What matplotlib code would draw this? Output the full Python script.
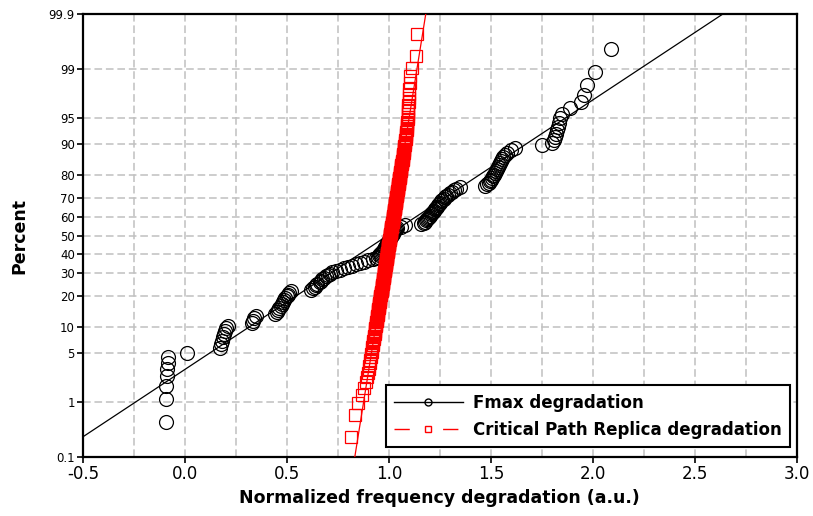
import math
import numpy as np
import matplotlib
matplotlib.use("Agg")
import matplotlib.pyplot as plt
from matplotlib.lines import Line2D

# Fmax degradation samples (sorted)
fmax = [
    -0.095, -0.093, -0.091, -0.089, -0.087, -0.085, -0.082, 0.008,
    0.170, 0.175, 0.180, 0.185, 0.190, 0.195, 0.200, 0.210,
    0.330, 0.335, 0.340, 0.350,
    0.440, 0.450, 0.455, 0.460, 0.470, 0.475, 0.480, 0.485, 0.490, 0.500,
    0.505, 0.510, 0.520,
    0.620, 0.630, 0.640, 0.645, 0.650, 0.660, 0.665, 0.670, 0.680, 0.690,
    0.700, 0.710, 0.720, 0.740, 0.760, 0.780, 0.800, 0.820, 0.840, 0.860,
    0.880, 0.900, 0.920, 0.935,
    0.945, 0.950, 0.955, 0.960, 0.965, 0.970, 0.975, 0.980, 0.980, 0.985,
    0.990, 0.990, 0.995, 1.000, 1.000, 1.005, 1.010, 1.010, 1.015, 1.020,
    1.020, 1.025, 1.030, 1.035, 1.040, 1.060, 1.080,
    1.160, 1.170, 1.175, 1.180, 1.185, 1.190, 1.195, 1.200, 1.205, 1.210,
    1.215, 1.220, 1.225, 1.230, 1.235, 1.240, 1.245, 1.250, 1.255, 1.260,
    1.270, 1.275, 1.280, 1.290, 1.300, 1.310, 1.320, 1.330, 1.350,
    1.470, 1.480, 1.490, 1.495, 1.500, 1.505, 1.510, 1.515, 1.520, 1.525,
    1.530, 1.535, 1.540, 1.545, 1.550, 1.555, 1.560, 1.570, 1.580, 1.600,
    1.620,
    1.750, 1.800, 1.810, 1.815, 1.820, 1.825, 1.830, 1.835, 1.840, 1.850,
    1.890, 1.940, 1.955, 1.970, 2.010, 2.090,
]

# critical path replica samples (sorted)
cpr = [
    0.812, 0.833, 0.850, 0.866, 0.880, 0.886, 0.893, 0.897, 0.901, 0.905,
    0.907, 0.910, 0.912, 0.914, 0.916, 0.917, 0.919, 0.921, 0.922, 0.924,
    0.925, 0.927, 0.928, 0.930, 0.931, 0.932, 0.933, 0.934, 0.935, 0.937,
    0.938, 0.939, 0.940, 0.941, 0.942, 0.943, 0.944, 0.945, 0.946, 0.947,
    0.947, 0.948, 0.949, 0.950, 0.951, 0.952, 0.953, 0.953, 0.954, 0.955,
    0.956, 0.956, 0.957, 0.958, 0.959, 0.959, 0.960, 0.961, 0.961, 0.962,
    0.963, 0.964, 0.964, 0.965, 0.966, 0.966, 0.967, 0.968, 0.968, 0.969,
    0.969, 0.970, 0.971, 0.971, 0.972, 0.973, 0.973, 0.974, 0.974, 0.975,
    0.976, 0.976, 0.977, 0.977, 0.978, 0.978, 0.979, 0.980, 0.980, 0.981,
    0.981, 0.982, 0.982, 0.983, 0.983, 0.984, 0.985, 0.985, 0.986, 0.986,
    0.987, 0.987, 0.988, 0.988, 0.989, 0.989, 0.990, 0.990, 0.991, 0.991,
    0.992, 0.992, 0.993, 0.993, 0.994, 0.994, 0.995, 0.995, 0.996, 0.996,
    0.997, 0.997, 0.998, 0.998, 0.999, 1.000, 1.000, 1.001, 1.001, 1.002,
    1.002, 1.003, 1.003, 1.004, 1.004, 1.005, 1.005, 1.006, 1.006, 1.007,
    1.007, 1.008, 1.008, 1.009, 1.009, 1.010, 1.010, 1.011, 1.011, 1.012,
    1.012, 1.013, 1.013, 1.014, 1.014, 1.015, 1.016, 1.016, 1.017, 1.017,
    1.018, 1.018, 1.019, 1.019, 1.020, 1.020, 1.021, 1.021, 1.022, 1.022,
    1.023, 1.023, 1.024, 1.024, 1.025, 1.025, 1.026, 1.026, 1.027, 1.027,
    1.028, 1.028, 1.029, 1.029, 1.030, 1.031, 1.031, 1.032, 1.032, 1.033,
    1.033, 1.034, 1.034, 1.035, 1.036, 1.036, 1.037, 1.037, 1.038, 1.038,
    1.039, 1.040, 1.040, 1.041, 1.041, 1.042, 1.043, 1.043, 1.044, 1.045,
    1.045, 1.046, 1.046, 1.047, 1.048, 1.048, 1.049, 1.050, 1.050, 1.051,
    1.052, 1.053, 1.053, 1.054, 1.055, 1.055, 1.056, 1.057, 1.058, 1.058,
    1.059, 1.060, 1.061, 1.061, 1.062, 1.063, 1.064, 1.065, 1.066, 1.067,
    1.067, 1.068, 1.069, 1.070, 1.071, 1.072, 1.073, 1.074, 1.075, 1.076,
    1.076, 1.078, 1.079, 1.080, 1.081, 1.082, 1.083, 1.084, 1.085, 1.086,
    1.087, 1.088, 1.089, 1.090, 1.091, 1.092, 1.093, 1.093, 1.094, 1.095,
    1.096, 1.097, 1.098, 1.099, 1.100, 1.102, 1.104, 1.114, 1.132, 1.139,
]

# fitted normal lines (mean, sigma)
fmax_mu, fmax_sigma = 0.994, 0.532
cpr_mu, cpr_sigma = 1.007, 0.0563

pct_ticks = [0.1, 1, 5, 10, 20, 30, 40, 50, 60, 70, 80, 90, 95, 99, 99.9]
pct_labels = ['0.1', '1', '5', '10', '20', '30', '40', '50', '60', '70',
              '80', '90', '95', '99', '99.9']
x_ticks = [-0.5, 0.0, 0.5, 1.0, 1.5, 2.0, 2.5, 3.0]
x_labels = ['-0.5', '0.0', '0.5', '1.0', '1.5', '2.0', '2.5', '3.0']


# inverse normal cdf (Acklam approximation)
_a = [-3.969683028665376e+01, 2.209460984245205e+02, -2.759285104469687e+02,
      1.383577518672690e+02, -3.066479806614716e+01, 2.506628277459239e+00]
_b = [-5.447609879822406e+01, 1.615858368580409e+02, -1.556989798598866e+02,
      6.680131188771972e+01, -1.328068155288572e+01]
_c = [-7.784894002430293e-03, -3.223964580411365e-01, -2.400758277161838e+00,
      -2.549671348283169e+00, 4.374664141464968e+00, 2.938163982698783e+00]
_d = [7.784695709041462e-03, 3.224671290700398e-01, 2.445134137142996e+00,
      3.754408661907416e+00]


def norm_ppf(p):
    p = np.clip(np.asarray(p, dtype=float), 1e-12, 1 - 1e-12)
    q = p - 0.5
    r = q * q
    mid = (((((_a[0]*r + _a[1])*r + _a[2])*r + _a[3])*r + _a[4])*r + _a[5]) * q / \
          (((((_b[0]*r + _b[1])*r + _b[2])*r + _b[3])*r + _b[4])*r + 1)
    ql = np.sqrt(-2 * np.log(np.minimum(p, 1 - p)))
    tail = (((((_c[0]*ql + _c[1])*ql + _c[2])*ql + _c[3])*ql + _c[4])*ql + _c[5]) / \
           ((((_d[0]*ql + _d[1])*ql + _d[2])*ql + _d[3])*ql + 1)
    out = np.where(p < 0.02425, tail, mid)
    out = np.where(p > 1 - 0.02425, -tail, out)
    return out


_erf = np.vectorize(math.erf)


def norm_cdf(z):
    return 0.5 * (1 + _erf(np.asarray(z, dtype=float) / math.sqrt(2)))


def fwd(pct):
    return norm_ppf(np.asarray(pct, dtype=float) / 100.0)


def inv(z):
    return 100.0 * norm_cdf(z)


def plot_pos(n):
    i = np.arange(1, n + 1)
    return (i - 0.3) / (n + 0.4) * 100


plt.rcParams['axes.unicode_minus'] = False
fig = plt.figure(figsize=(8.13, 5.16), dpi=100)
ax = fig.add_axes([0.102, 0.1143, 0.878, 0.8586])
ax.set_yscale('function', functions=(fwd, inv))

fx = np.sort(fmax)
cx = np.sort(cpr)

xs = np.linspace(-0.6, 3.1, 600)
ax.plot(xs, inv((xs - fmax_mu) / fmax_sigma), color='black', lw=0.9, zorder=3)
ax.plot(fx, plot_pos(len(fx)), 'o', ms=10, mfc='none', mec='black', mew=0.9, zorder=4)

xr = np.linspace(0.7, 1.3, 600)
ax.plot(xr, inv((xr - cpr_mu) / cpr_sigma), color='red', lw=0.9, zorder=5)
ax.plot(cx, plot_pos(len(cx)), 's', ms=8, mfc='none', mec='red', mew=0.9, zorder=6)

ax.set_ylim(0.1, 99.9)
ax.set_xlim(-0.5, 3.0)
ax.set_yticks(pct_ticks)
ax.set_yticklabels(pct_labels)
ax.yaxis.set_minor_locator(matplotlib.ticker.NullLocator())
ax.set_xticks(x_ticks)
ax.set_xticklabels(x_labels)
ax.set_xticks(np.arange(-0.25, 3.0, 0.5), minor=True)

ax.grid(True, which='both', color='#c0c0c0', lw=1.1, ls=(0, (5, 2.5)), zorder=0)
ax.tick_params(axis='x', which='major', length=4, width=1.2, pad=2, labelsize=12)
ax.tick_params(axis='y', which='major', length=4.3, width=1.2, pad=1.5, labelsize=8.5)
ax.tick_params(which='minor', length=0)
for s in ax.spines.values():
    s.set_linewidth(1.6)
    s.set_color('black')

ax.set_xlabel('Normalized frequency degradation (a.u.)', fontsize=12.5, fontweight='bold')
ax.set_ylabel('Percent', fontsize=12.5, fontweight='bold')
ax.xaxis.set_label_coords(0.5, -0.072)
ax.yaxis.set_label_coords(-0.077, 0.5)

handles = [
    Line2D([], [], color='black', lw=1, marker='o', ms=5, mfc='none', mec='black'),
    Line2D([], [], color='red', lw=1, ls=(0, (11, 24)), marker='s', ms=5, mfc='none', mec='red'),
]
leg = ax.legend(handles, ['Fmax degradation', 'Critical Path Replica degradation'],
                loc='lower right', bbox_to_anchor=(0.99, 0.0226), borderaxespad=0,
                prop={'weight': 'bold', 'size': 12}, handlelength=4.1,
                fancybox=False, framealpha=1, edgecolor='black',
                borderpad=0.5, labelspacing=0.55, handletextpad=0.6)
leg.get_frame().set_linewidth(1.5)

fig.savefig('out.png', dpi=100)
